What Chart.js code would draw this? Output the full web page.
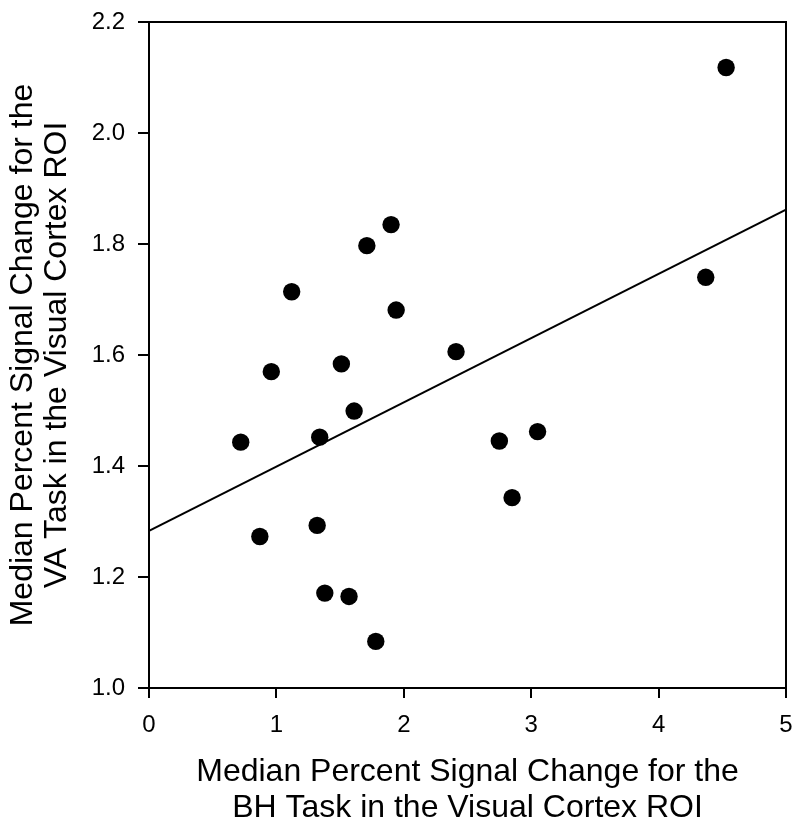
<!DOCTYPE html>
<html>
<head>
<meta charset="utf-8">
<script src="https://cdn.jsdelivr.net/npm/chart.js@4/dist/chart.umd.min.js"></script>
<style>
  html, body { margin: 0; padding: 0; background: #fff; }
  canvas { display: block; }
</style>
</head>
<body>
<canvas id="scatter-chart" width="800" height="830"></canvas>
<script>
// BH task signal change (x) vs VA task signal change (y), one point per subject
const bhValues = [4.53, 4.37, 1.90, 1.71, 1.94, 1.12, 0.96, 1.51, 2.41, 1.61,
                  0.72, 1.34, 2.75, 3.05, 2.85, 1.32, 0.87, 1.38, 1.57, 1.78];
const vaValues = [2.118, 1.740, 1.835, 1.797, 1.681, 1.714, 1.570, 1.584, 1.606, 1.499,
                  1.443, 1.452, 1.445, 1.462, 1.343, 1.293, 1.273, 1.171, 1.165, 1.084];

// regression line end points
const fitX = [0, 5];
const fitY = [1.283, 1.862];

const xTickLabels = ['0', '1', '2', '3', '4', '5'];
const yTickLabels = ['1.0', '1.2', '1.4', '1.6', '1.8', '2.0', '2.2'];

const xTitle = ['Median Percent Signal Change for the', 'BH Task in the Visual Cortex ROI'];
const yTitle = ['Median Percent Signal Change for the', 'VA Task in the Visual Cortex ROI'];

const FONT = "'Liberation Sans', Arial, sans-serif";

// top and right edges of the plot box
const framePlugin = {
  id: 'frame',
  afterDraw(chart) {
    const { ctx, chartArea } = chart;
    ctx.save();
    ctx.strokeStyle = '#000';
    ctx.lineWidth = 2;
    ctx.beginPath();
    ctx.moveTo(chartArea.left, chartArea.top);
    ctx.lineTo(chartArea.right, chartArea.top);
    ctx.lineTo(chartArea.right, chartArea.bottom);
    ctx.stroke();
    ctx.restore();
  }
};

const points = bhValues.map((x, i) => ({ x: x, y: vaValues[i] }));
const fitLine = fitX.map((x, i) => ({ x: x, y: fitY[i] }));

new Chart(document.getElementById('scatter-chart'), {
  type: 'scatter',
  data: {
    datasets: [
      {
        data: points,
        pointRadius: 8.7,
        pointBorderWidth: 0,
        pointBackgroundColor: '#000',
        pointHoverRadius: 8.7
      },
      {
        data: fitLine,
        showLine: true,
        borderColor: '#000',
        borderWidth: 2,
        pointRadius: 0,
        pointHoverRadius: 0
      }
    ]
  },
  options: {
    responsive: false,
    animation: false,
    layout: { padding: { top: 22, right: 14, left: 0, bottom: 0 } },
    plugins: {
      legend: { display: false },
      tooltip: { enabled: false }
    },
    scales: {
      x: {
        type: 'linear',
        min: 0,
        max: 5,
        afterFit(scale) {
          scale.height = 142;
          scale.paddingLeft = 0;
          scale.paddingRight = 0;
        },
        ticks: {
          stepSize: 1,
          padding: 13,
          color: '#000',
          font: { family: FONT, size: 24 },
          callback: (v, i) => xTickLabels[i]
        },
        grid: {
          drawOnChartArea: false,
          drawTicks: true,
          tickLength: 10,
          color: '#000',
          lineWidth: 2
        },
        border: { display: true, color: '#000', width: 2 },
        title: {
          display: true,
          text: xTitle,
          color: '#000',
          font: { family: FONT, size: 32, lineHeight: 1.15 },
          padding: { top: 0, bottom: 3 }
        }
      },
      y: {
        type: 'linear',
        min: 1.0,
        max: 2.2,
        afterFit(scale) {
          scale.width = 149;
          scale.paddingTop = 0;
          scale.paddingBottom = 0;
        },
        ticks: {
          stepSize: 0.2,
          padding: 13,
          color: '#000',
          font: { family: FONT, size: 24 },
          callback: (v, i) => yTickLabels[i]
        },
        grid: {
          drawOnChartArea: false,
          drawTicks: true,
          tickLength: 11,
          color: '#000',
          lineWidth: 2
        },
        border: { display: true, color: '#000', width: 2 },
        title: {
          display: true,
          text: yTitle,
          color: '#000',
          font: { family: FONT, size: 32, lineHeight: 1.06 },
          padding: { top: 6, bottom: 0 }
        }
      }
    }
  },
  plugins: [framePlugin]
});
</script>
</body>
</html>
